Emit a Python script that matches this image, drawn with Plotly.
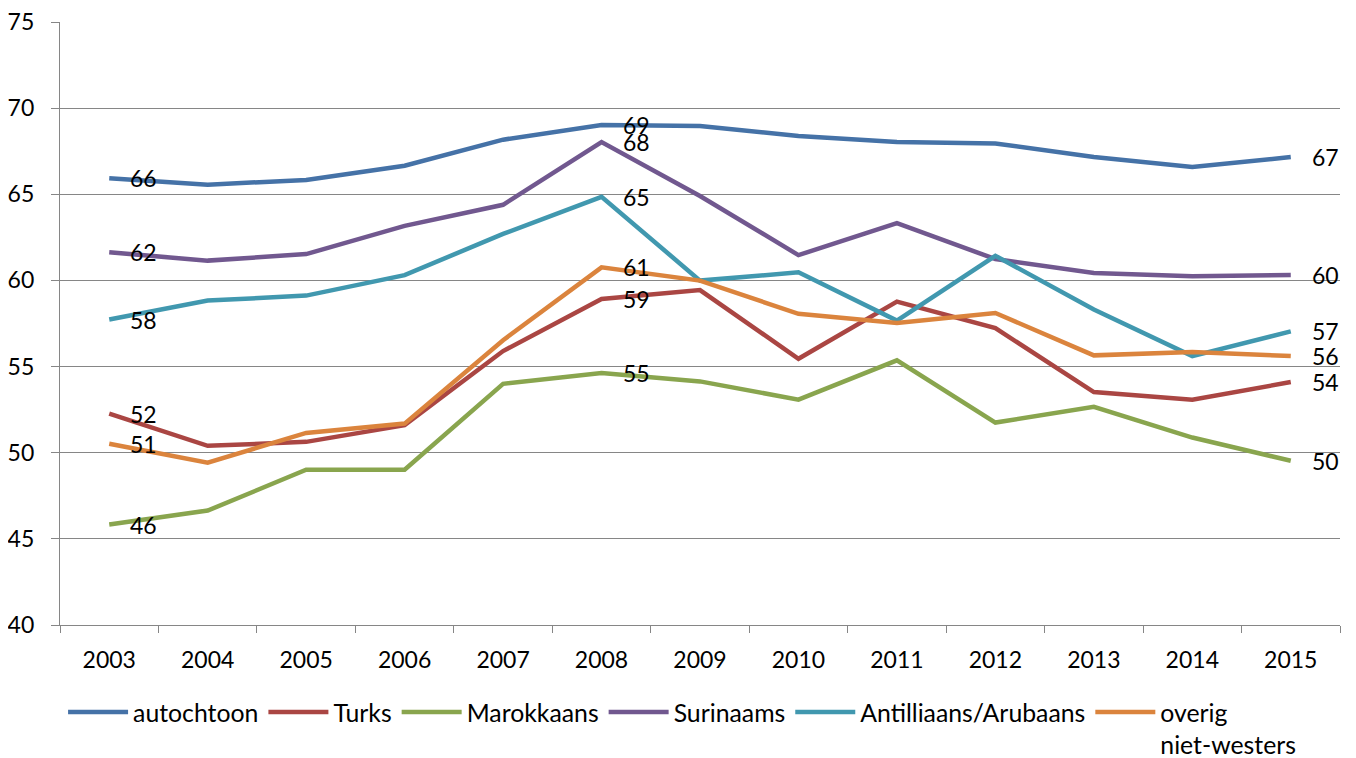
import plotly.graph_objects as go

years = ["2003", "2004", "2005", "2006", "2007", "2008", "2009",
         "2010", "2011", "2012", "2013", "2014", "2015"]

autochtoon = [65.93, 65.56, 65.83, 66.66, 68.17, 69.02, 68.96, 68.38, 68.03, 67.95, 67.16, 66.59, 67.16]
turks = [52.27, 50.40, 50.63, 51.60, 55.90, 58.92, 59.44, 55.45, 58.77, 57.23, 53.52, 53.08, 54.10]
marokkaans = [45.83, 46.64, 49.01, 49.01, 54.00, 54.62, 54.14, 53.08, 55.36, 51.75, 52.66, 50.88, 49.53]
surinaams = [61.63, 61.15, 61.53, 63.17, 64.39, 68.03, 64.90, 61.47, 63.32, 61.24, 60.43, 60.24, 60.31]
antilliaans = [57.73, 58.83, 59.12, 60.31, 62.70, 64.85, 59.99, 60.47, 57.67, 61.43, 58.31, 55.61, 57.04]
overig = [50.52, 49.42, 51.15, 51.69, 56.53, 60.76, 59.99, 58.06, 57.53, 58.11, 55.65, 55.84, 55.61]

series_names = ["autochtoon", "Turks", "Marokkaans", "Surinaams",
                "Antilliaans/Arubaans", "overig<br>niet-westers"]
series_values = [autochtoon, turks, marokkaans, surinaams, antilliaans, overig]
colors = ["#4572A7", "#AA4643", "#89A54E", "#71588F", "#4198AF", "#DB843D"]
label_idx = [0, 5, 12]

y_ticks = [40, 45, 50, 55, 60, 65, 70, 75]

FONT = "Lato, Liberation Sans, sans-serif"
FS = 23

fig = go.Figure()
for name, vals, col in zip(series_names, series_values, colors):
    fig.add_trace(go.Scatter(
        x=years, y=vals, name=name, mode="lines",
        line=dict(color=col, width=4.5),
    ))

annotations = []
for vals in series_values:
    for i in label_idx:
        annotations.append(dict(
            x=i, y=vals[i], xref="x", yref="y", text=str(round(vals[i])),
            xanchor="left", yanchor="middle", xshift=19,
            showarrow=False, font=dict(size=FS, color="#000000", family=FONT),
        ))

# page body has an 8px margin; figure size/margins compensate for it
fig.update_layout(
    width=1348, height=750,
    paper_bgcolor="white", plot_bgcolor="white",
    margin=dict(l=52, r=16, t=14, b=133),
    font=dict(family=FONT, size=FS, color="#000000"),
    showlegend=True,
    legend=dict(
        orientation="h", x=0.0024, xanchor="left",
        yref="container", y=0.0915, yanchor="top",
        font=dict(size=24.8, family=FONT), valign="top",
        tracegroupgap=0, itemwidth=60,
    ),
    annotations=annotations,
    xaxis=dict(
        type="category", range=[-0.5, 12.5], automargin=False,
        showgrid=False, showline=True, linecolor="#868686", linewidth=1.3,
        ticks="outside", tickson="boundaries", ticklen=7, tickcolor="#868686",
        tickwidth=1.3, ticklabelstandoff=14,
        tickfont=dict(size=FS, family=FONT),
    ),
    yaxis=dict(
        range=[40, 75], tickvals=y_ticks, ticktext=[str(v) for v in y_ticks],
        automargin=False, ticklabeloverflow="allow",
        showgrid=True, gridcolor="#868686", gridwidth=1.3,
        showline=True, linecolor="#868686", linewidth=1.3,
        ticks="outside", ticklen=8, tickcolor="#868686", tickwidth=1.3,
        ticklabelstandoff=12, zeroline=False,
        tickfont=dict(size=FS, family=FONT),
    ),
)

fig.write_html("out.html")
